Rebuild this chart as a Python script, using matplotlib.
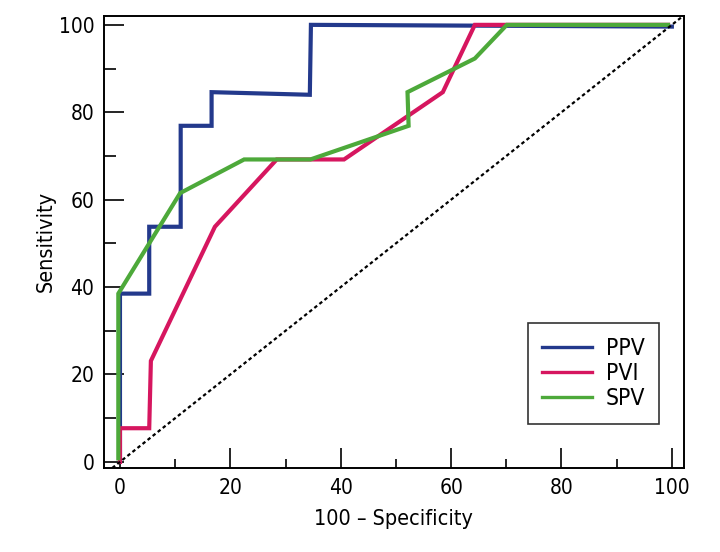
import matplotlib
matplotlib.use("Agg")
import matplotlib.pyplot as plt
from matplotlib.ticker import MultipleLocator

# condensed sans, close to the narrow font of the original
plt.rcParams["font.family"] = ["DejaVu Sans"]
plt.rcParams["font.stretch"] = "condensed"

# ROC curve points (100 - specificity, sensitivity)
ppv_x = [0, 0, 5.3, 5.3, 11.0, 11.0, 16.6, 16.6, 34.4, 34.6, 100]
ppv_y = [0, 38.5, 38.5, 53.8, 53.8, 76.9, 76.9, 84.6, 84.0, 100, 99.6]

pvi_x = [0, 0, 5.3, 5.6, 17.2, 28.4, 40.6, 58.5, 64.3, 99.3]
pvi_y = [0, 7.7, 7.7, 23.1, 53.8, 69.2, 69.2, 84.6, 100, 100]

spv_x = [-0.3, -0.3, 10.9, 22.5, 34.5, 52.3, 52.1, 64.3, 70.1, 99.3]
spv_y = [0.8, 38.5, 61.5, 69.2, 69.2, 76.9, 84.6, 92.3, 100, 100]

labels = ["PPV", "PVI", "SPV"]
colors = ["#23398c", "#d6165f", "#4da93a"]

fig = plt.figure(figsize=(7.2, 5.52), dpi=100)
ax = fig.add_axes([0.1444, 0.1522, 0.8056, 0.8194])

for xs, ys, lab, col in zip([ppv_x, pvi_x, spv_x], [ppv_y, pvi_y, spv_y], labels, colors):
    ax.plot(xs, ys, color=col, lw=3.0, label=lab, solid_joinstyle="miter")

# chance line
ax.axline((0, 0), slope=1, color="black", lw=1.6, linestyle=(0, (1.6, 1.3)))

ax.set_xlim(-2.9, 102.2)
ax.set_ylim(-1.4, 102.1)

ax.xaxis.set_major_locator(MultipleLocator(20))
ax.xaxis.set_minor_locator(MultipleLocator(10))
ax.yaxis.set_major_locator(MultipleLocator(20))
ax.yaxis.set_minor_locator(MultipleLocator(10))
ax.tick_params(which="major", direction="in", length=14.4, width=1.2, labelsize=15, pad=7)
ax.tick_params(axis="x", which="minor", direction="in", length=6.5, width=1.2)
ax.tick_params(axis="y", which="minor", direction="in", length=8.5, width=1.2)

for sp in ax.spines.values():
    sp.set_linewidth(1.4)

ax.set_xlabel("100 \u2013 Specificity", fontsize=15.5, labelpad=8)
ax.set_ylabel("Sensitivity", fontsize=15.5, labelpad=2)

leg = ax.legend(loc="lower right", bbox_to_anchor=(0.957, 0.097), fontsize=16.5,
                frameon=True, fancybox=False, edgecolor="black", handlelength=2.2,
                handletextpad=0.6, borderpad=0.6, borderaxespad=0,
                labelspacing=0.1)
leg.get_frame().set_linewidth(1.2)
for line in leg.get_lines():
    line.set_linewidth(2.4)

plt.savefig("out.png", dpi=100)
